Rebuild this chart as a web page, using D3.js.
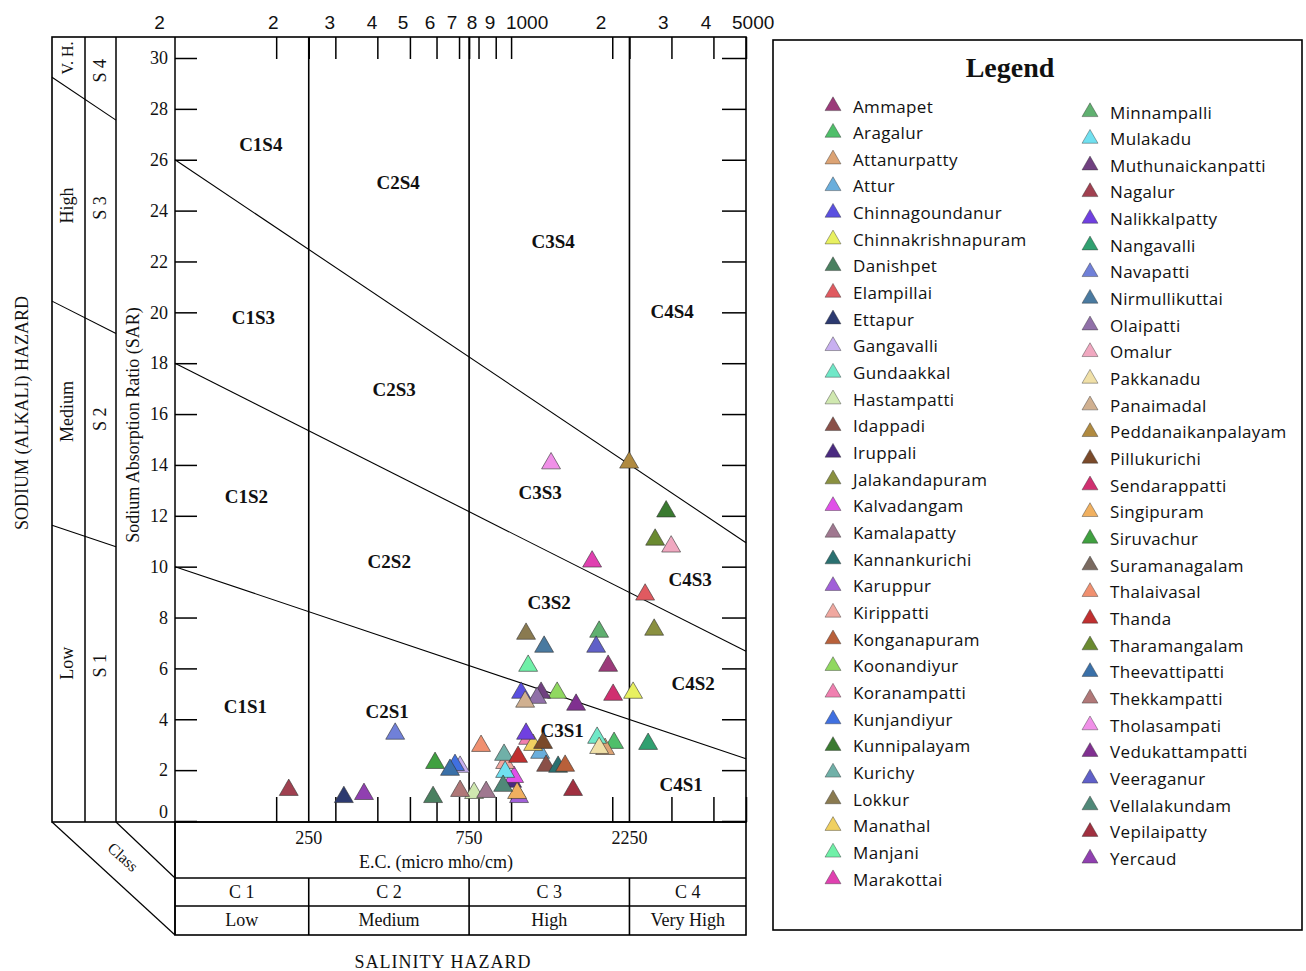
<!DOCTYPE html>
<html>
<head>
<meta charset="utf-8">
<script src="https://cdn.jsdelivr.net/npm/d3@7"></script>
<style>
  body { margin: 0; background: #fff; }
  text { fill: #111; }
</style>
</head>
<body>
<div id="chart"></div>
<script>
    // sample locations, in legend order
    var stations = ["Ammapet","Aragalur","Attanurpatty","Attur","Chinnagoundanur","Chinnakrishnapuram","Danishpet","Elampillai","Ettapur","Gangavalli",
        "Gundaakkal","Hastampatti","Idappadi","Iruppali","Jalakandapuram","Kalvadangam","Kamalapatty","Kannankurichi","Karuppur","Kirippatti",
        "Konganapuram","Koonandiyur","Koranampatti","Kunjandiyur","Kunnipalayam","Kurichy","Lokkur","Manathal","Manjani","Marakottai",
        "Minnampalli","Mulakadu","Muthunaickanpatti","Nagalur","Nalikkalpatty","Nangavalli","Navapatti","Nirmullikuttai","Olaipatti","Omalur",
        "Pakkanadu","Panaimadal","Peddanaikanpalayam","Pillukurichi","Sendarappatti","Singipuram","Siruvachur","Suramanagalam","Thalaivasal","Thanda",
        "Tharamangalam","Theevattipatti","Thekkampatti","Tholasampati","Vedukattampatti","Veeraganur","Vellalakundam","Vepilaipatty","Yercaud"];

    // E.C. in micro mho/cm (null = not visible on the plot)
    var ecValues = [1944,2025,1905,1220,1071,2307,586,2505,318,705,
        1803,776,1271,1007,2665,1021,843,1380,1056,960,
        1448,1371,1124,681,2893,953,1108,1163,1124,1742,
        1828,960,1228,218,1108,2557,452,1254,1195,2994,
        1828,1101,2245,1245,2012,1042,594,null,814,1049,
        2683,658,705,1315,1561,1791,947,1529,365];

    // sodium absorption ratio
    var sarValues = [6.10,3.07,2.83,2.68,5.04,5.04,0.94,8.90,0.94,2.13,
        3.27,1.10,2.17,1.54,7.52,1.73,1.14,2.13,0.94,2.28,
        2.17,5.04,3.23,2.20,12.17,2.60,7.36,2.99,6.10,10.20,
        7.44,1.93,5.04,1.22,3.43,3.03,3.43,6.85,4.84,10.79,
        2.87,4.69,14.09,3.07,4.96,1.10,2.28,null,2.95,2.52,
        11.06,2.01,1.18,14.06,4.57,6.85,1.38,1.22,1.06];

    var stationColors = ["#9b3a7a","#4fbf6a","#dca374","#6aaedc","#5a50e0","#e8f060","#4a8060","#e05a60","#2c3a70","#c8b0f0",
        "#70e8c8","#d0e8b0","#8a5048","#4a2a80","#8a9040","#e050e8","#a07890","#2a7070","#a060d8","#f0a8a0",
        "#b8603a","#90d860","#f080b0","#4070e0","#3a7a30","#70b0a8","#8a7a50","#f0d060","#70f0a8","#e040b0",
        "#60b070","#70e0f0","#704080","#a04050","#7040e0","#30a070","#7080d8","#4a7aa0","#9070a8","#f0a8c0",
        "#f0e0a8","#d0b090","#b08a40","#7a4a2a","#d03070","#f0b060","#40a040","#7a6a60","#f09070","#c03030",
        "#6a8a30","#3a70a8","#b07878","#f090e8","#803090","#6060c8","#508878","#a03040","#9040b0"];

    // salinity classes
    var ecEdges = [100, 250, 750, 2250, 5000];
    var ecClassNames = ["C 1", "C 2", "C 3", "C 4"];
    var ecClassLevels = ["Low", "Medium", "High", "Very High"];
    var ecBoundaryLabels = [250, 750, 2250];

    // sodium class boundaries: SAR at EC 100 and at EC 5000
    var sarAt100 = [10, 18, 26];
    var sarAt5000 = [2.45, 6.67, 10.94];
    var sodiumLevels = ["Low", "Medium", "High", "V. H."];
    var sodiumLevelSar = [6.2, 16.1, 24.2, 30.0];
    var sodiumClasses = ["S 1", "S 2", "S 3", "S 4"];
    var sodiumClassSar = [6.1, 15.8, 24.1, 29.5];

    // zone labels
    var zoneNames = ["C1S4","C2S4","C3S4","C4S4","C1S3","C2S3","C3S3","C4S3","C1S2","C2S2","C3S2","C4S2","C1S1","C2S1","C3S1","C4S1"];
    var zoneEc = [180,461,1334,3014,171,449,1220,3410,163,434,1298,3480,162,428,1419,3206];
    var zoneSar = [26.6,25.1,22.8,20.05,19.8,16.95,12.9,9.5,12.75,10.2,8.6,5.4,4.5,4.3,3.55,1.45];

    // top axis
    var topTicks = [200,250,300,400,500,600,700,750,800,900,1000,2000,2250,3000,4000,5000];
    var topLabelText = ["2","2","3","4","5","6","7","8","9","1000","2","3","4","5000"];
    var topLabelAt = [90,196,289,386,477,574,667,765,866,1116,1853,2835,3805,5252];

    var sarTicks = d3.range(0, 31, 2);

    var W = 1306, H = 971;
    var plotTop = 37, plotBottom = 822, plotLeft = 175, plotRight = 746;
    var panelLeft = 52;

    var serif = "'Liberation Serif', 'DejaVu Serif', serif";

    var svg = d3.select("#chart").append("svg")
        .attr("width", W)
        .attr("height", H);

    var x = d3.scaleLog().domain([100, 5000]).range([plotLeft, plotRight]);
    var y = d3.scaleLinear().domain([0, 30]).range([821, 58]);

    function line(g, x1, y1, x2, y2, w) {
        g.append("line")
            .attr("x1", x1).attr("y1", y1).attr("x2", x2).attr("y2", y2)
            .attr("stroke", "#000").attr("stroke-width", w || 1.5);
    }

    var frame = svg.append("g");

    // plot frame and left panel
    frame.append("rect")
        .attr("x", panelLeft).attr("y", plotTop)
        .attr("width", plotRight - panelLeft).attr("height", plotBottom - plotTop)
        .attr("fill", "none").attr("stroke", "#000").attr("stroke-width", 1.6);
    line(frame, 85, plotTop, 85, plotBottom);
    line(frame, 116, plotTop, 116, plotBottom);
    line(frame, plotLeft, plotTop, plotLeft, 935);

    // bottom class table
    frame.append("rect")
        .attr("x", plotLeft).attr("y", plotBottom)
        .attr("width", plotRight - plotLeft).attr("height", 935 - plotBottom)
        .attr("fill", "none").attr("stroke", "#000").attr("stroke-width", 1.6);
    line(frame, plotLeft, 878, plotRight, 878);
    line(frame, plotLeft, 906, plotRight, 906);

    // diagonal corner
    line(frame, panelLeft, plotBottom, plotLeft, 935, 1.2);
    line(frame, 116, plotBottom, plotLeft, 878, 1.2);

    // salinity class boundaries
    ecBoundaryLabels.forEach(function(v) {
        line(frame, x(v), plotTop, x(v), plotBottom, 1.6);
        line(frame, x(v), 878, x(v), 935, 1.6);
    });

    // sodium class boundaries
    sarAt100.forEach(function(s0, i) {
        var x0 = x(100), y0 = y(s0), x1 = x(5000), y1 = y(sarAt5000[i]);
        var slope = (y1 - y0) / (x1 - x0);
        line(frame, x0, y0, x1, y1, 1.1);
        // extension through the left panel
        line(frame, panelLeft, y0 + (panelLeft - x0) * slope, 116, y0 + (116 - x0) * slope, 1.1);
    });

    // axes
    var axTop = svg.append("g").attr("transform", "translate(0," + plotTop + ")")
        .call(d3.axisTop(x).tickValues(topTicks).tickSize(-22).tickSizeOuter(0).tickFormat(""));
    var axBottom = svg.append("g").attr("transform", "translate(0," + plotBottom + ")")
        .call(d3.axisBottom(x).tickValues(topTicks.filter(function(v) { return ecBoundaryLabels.indexOf(v) < 0; }))
            .tickSize(-25).tickSizeOuter(0).tickFormat(""));
    var axLeft = svg.append("g").attr("transform", "translate(" + plotLeft + ",0)")
        .call(d3.axisLeft(y).tickValues(sarTicks).tickSize(-22).tickSizeOuter(0).tickPadding(7));
    var axRight = svg.append("g").attr("transform", "translate(" + plotRight + ",0)")
        .call(d3.axisRight(y).tickValues(sarTicks).tickSize(-24).tickSizeOuter(0).tickFormat(""));

    [axTop, axBottom, axLeft, axRight].forEach(function(a) {
        a.select(".domain").remove();
        a.selectAll(".tick line").attr("stroke", "#000").attr("stroke-width", 1.5);
    });
    axLeft.selectAll(".tick text")
        .attr("font-family", serif).attr("font-size", 18).attr("fill", "#111")
        .attr("dy", function(d) { return d === 0 ? "-0.2em" : "0.32em"; });

    svg.append("g").selectAll("text")
        .data(topLabelText)
        .enter().append("text")
        .attr("x", function(d, i) { return x(topLabelAt[i]); })
        .attr("y", 29)
        .attr("text-anchor", "middle")
        .attr("font-family", "'Liberation Sans Narrow', 'Liberation Sans', sans-serif")
        .attr("font-size", 19)
        .text(function(d) { return d; });

    // bottom labels
    var bottomText = svg.append("g")
        .attr("font-family", serif).attr("font-size", 18).attr("text-anchor", "middle");
    bottomText.selectAll(".ecb")
        .data(ecBoundaryLabels)
        .enter().append("text")
        .attr("x", function(d) { return x(d); })
        .attr("y", 844)
        .text(function(d) { return d; });
    bottomText.append("text").attr("x", 436).attr("y", 868).text("E.C. (micro mho/cm)");
    bottomText.selectAll(".cn")
        .data(ecClassNames)
        .enter().append("text")
        .attr("x", function(d, i) { return x(Math.sqrt(ecEdges[i] * ecEdges[i + 1])); })
        .attr("y", 898)
        .text(function(d) { return d; });
    bottomText.selectAll(".cl")
        .data(ecClassLevels)
        .enter().append("text")
        .attr("x", function(d, i) { return x(Math.sqrt(ecEdges[i] * ecEdges[i + 1])); })
        .attr("y", 926)
        .text(function(d) { return d; });
    bottomText.append("text").attr("x", 443).attr("y", 968)
        .attr("letter-spacing", 1).text("SALINITY HAZARD");
    bottomText.append("text")
        .attr("transform", "translate(123,857) rotate(42)")
        .attr("dominant-baseline", "central")
        .attr("font-size", 16)
        .text("Class");

    // left panel labels
    var leftText = svg.append("g")
        .attr("font-family", serif).attr("font-size", 18).attr("text-anchor", "middle")
        .attr("dominant-baseline", "central");
    leftText.selectAll(".sl")
        .data(sodiumLevels)
        .enter().append("text")
        .attr("transform", function(d, i) { return "translate(67," + y(sodiumLevelSar[i]) + ") rotate(-90)"; })
        .attr("font-size", function(d, i) { return i === 3 ? 16 : 18; })
        .text(function(d) { return d; });
    leftText.selectAll(".sc")
        .data(sodiumClasses)
        .enter().append("text")
        .attr("transform", function(d, i) { return "translate(100," + y(sodiumClassSar[i]) + ") rotate(-90)"; })
        .text(function(d) { return d; });
    leftText.append("text")
        .attr("transform", "translate(133,425) rotate(-90)")
        .text("Sodium Absorption Ratio (SAR)");
    leftText.append("text")
        .attr("transform", "translate(22,413) rotate(-90)")
        .text("SODIUM (ALKALI) HAZARD");

    // zone labels
    svg.append("g").selectAll("text")
        .data(zoneNames)
        .enter().append("text")
        .attr("x", function(d, i) { return x(zoneEc[i]); })
        .attr("y", function(d, i) { return y(zoneSar[i]); })
        .attr("text-anchor", "middle")
        .attr("dominant-baseline", "central")
        .attr("font-family", serif)
        .attr("font-weight", "bold")
        .attr("font-size", 19)
        .text(function(d) { return d; });

    // sample points
    var tri = d3.symbol().type(d3.symbolTriangle).size(155);
    var pts = stations.map(function(n, i) {
        return { name: n, ec: ecValues[i], sar: sarValues[i], color: stationColors[i] };
    }).filter(function(d) { return d.ec !== null; });

    svg.append("g").selectAll("path")
        .data(pts)
        .enter().append("path")
        .attr("d", tri)
        .attr("transform", function(d) { return "translate(" + x(d.ec) + "," + y(d.sar) + ")"; })
        .attr("fill", function(d) { return d.color; })
        .attr("stroke", "#333")
        .attr("stroke-opacity", 0.75)
        .attr("stroke-width", 0.8);

    // legend
    var legend = svg.append("g");
    legend.append("rect")
        .attr("x", 773).attr("y", 40).attr("width", 529).attr("height", 890)
        .attr("fill", "none").attr("stroke", "#000").attr("stroke-width", 1.6);
    legend.append("text")
        .attr("x", 1010).attr("y", 77)
        .attr("text-anchor", "middle")
        .attr("font-family", serif).attr("font-weight", "bold").attr("font-size", 28)
        .text("Legend");

    var legTri = d3.symbol().type(d3.symbolTriangle).size(110);
    var rowH = 26.66;
    var items = legend.selectAll(".item")
        .data(stations)
        .enter().append("g")
        .attr("transform", function(d, i) {
            var col = i < 30 ? 0 : 1, row = i < 30 ? i : i - 30;
            return "translate(" + (col ? 1090 : 833) + "," + ((col ? 112 : 106) + row * rowH) + ")";
        });
    items.append("path")
        .attr("d", legTri)
        .attr("fill", function(d, i) { return stationColors[i]; })
        .attr("stroke", "#333").attr("stroke-opacity", 0.6).attr("stroke-width", 0.7);
    items.append("text")
        .attr("x", 20)
        .attr("dominant-baseline", "central")
        .attr("font-family", "'Open Sans', sans-serif")
        .attr("font-size", 17)
        .attr("letter-spacing", 0.35)
        .text(function(d) { return d; });
</script>
</body>
</html>
